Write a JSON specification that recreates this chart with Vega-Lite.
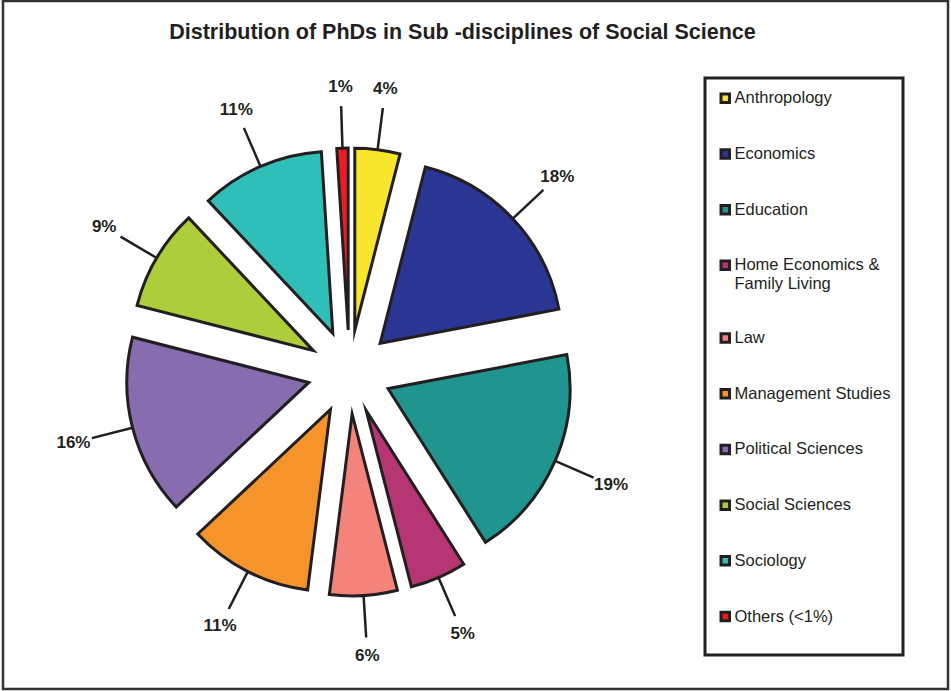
{
  "$schema": "https://vega.github.io/schema/vega-lite/v6.json",
  "width": 951,
  "height": 691,
  "autosize": {"type": "fit", "contains": "padding"},
  "padding": {"left": 3, "top": 1, "right": 3, "bottom": 2},
  "background": "white",
  "title": {
    "text": "Distribution of PhDs in Sub -disciplines of Social Science",
    "font": "Liberation Sans",
    "fontSize": 21.5,
    "fontWeight": "bold",
    "color": "#231f20",
    "anchor": "middle",
    "frame": "group",
    "offset": -42,
    "dx": -13
  },
  "data": {
    "values": [
      {"field": "Anthropology", "share": 0.04, "order": 1},
      {"field": "Economics", "share": 0.18, "order": 2},
      {"field": "Education", "share": 0.19, "order": 3},
      {"field": "Home Economics & Family Living", "share": 0.05, "order": 4},
      {"field": "Law", "share": 0.06, "order": 5},
      {"field": "Management Studies", "share": 0.11, "order": 6},
      {"field": "Political Sciences", "share": 0.16, "order": 7},
      {"field": "Social Sciences", "share": 0.09, "order": 8},
      {"field": "Sociology", "share": 0.11, "order": 9},
      {"field": "Others (<1%)", "share": 0.01, "order": 10}
    ]
  },
  "encoding": {
    "theta": {"field": "share", "type": "quantitative", "stack": true},
    "order": {"field": "order", "type": "quantitative"}
  },
  "layer": [
    {
      "mark": {"type": "arc", "stroke": "#231f20", "strokeWidth": 3, "strokeJoin": "miter", "strokeMiterLimit": 10},
      "encoding": {
        "color": {
          "field": "field",
          "type": "nominal",
          "scale": {
            "domain": ["Anthropology", "Economics", "Education", "Home Economics & Family Living", "Law", "Management Studies", "Political Sciences", "Social Sciences", "Sociology", "Others (<1%)"],
            "range": ["#f7e62b", "#2b3694", "#20958f", "#b63673", "#f4837c", "#f4942b", "#876db0", "#aecd3b", "#2fbfb8", "#ed1c24"]
          },
          "legend": {
            "orient": "none",
            "legendX": 702,
            "legendY": 77,
            "title": " ",
            "titleOrient": "bottom",
            "titleFontSize": 8,
            "titlePadding": 8,
            "padding": 12,
            "strokeColor": "#231f20",
            "symbolType": "square",
            "symbolSize": 72,
            "symbolStrokeColor": "#231f20",
            "symbolStrokeWidth": 3,
            "labelFont": "Liberation Sans",
            "labelFontSize": 16.5,
            "labelColor": "#231f20",
            "labelOffset": 1,
            "labelLimit": 220,
            "rowPadding": 34.7,
            "labelExpr": "datum.label == 'Home Economics & Family Living' ? ['Home Economics &', 'Family Living'] : datum.label"
          }
        },
        "radius": {"value": 182},
        "x": {"value": {"expr": "346.5 + 42 * sin(PI * (datum.share_start + datum.share_end))"}},
        "y": {"value": {"expr": "371 - 42 * cos(PI * (datum.share_start + datum.share_end))"}}
      }
    },
    {
      "mark": {"type": "arc", "filled": false, "stroke": "#231f20", "strokeWidth": 2.5, "padAngle": 1.2, "x": 346.5, "y": 371},
      "encoding": {
        "radius": {"value": 266},
        "radius2": {"value": 224}
      }
    },
    {
      "mark": {"type": "text", "font": "Liberation Sans", "fontSize": 17, "fontWeight": "bold", "color": "#231f20", "x": 346.5, "y": 371},
      "encoding": {
        "radius": {"value": 285},
        "text": {"field": "share", "type": "quantitative", "format": ".0%"}
      }
    }
  ],
  "config": {
    "view": {"stroke": "#333333", "strokeWidth": 2.5},
    "legend": {"strokeWidth": 3}
  }
}
